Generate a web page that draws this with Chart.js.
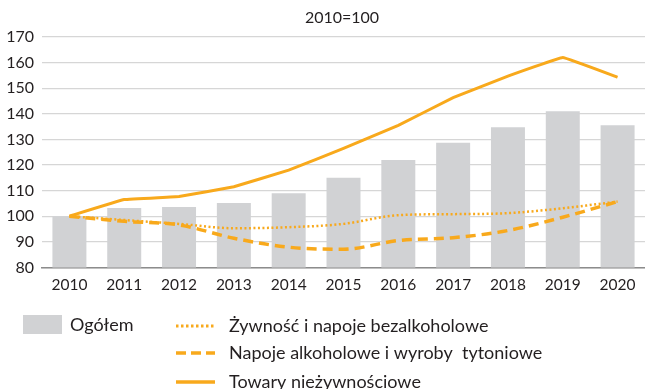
<!DOCTYPE html>
<html>
<head>
<meta charset="utf-8">
<script src="https://cdn.jsdelivr.net/npm/chart.js@4/dist/chart.umd.min.js"></script>
<style>
  html, body { margin: 0; padding: 0; background: #fff; }
  #wrap { width: 645px; height: 389px; position: relative; }
</style>
</head>
<body>
<div id="wrap"><canvas id="c" width="645" height="389"></canvas></div>
<script>
// Price indices, 2010 = 100
const years = ['2010','2011','2012','2013','2014','2015','2016','2017','2018','2019','2020'];
const ogolem = [100, 103.2, 103.6, 105.2, 109, 115, 122, 128.7, 134.7, 141, 135.5];
const zywnosc = [100, 98.5, 97, 95.3, 95.7, 97, 100.4, 100.8, 101.2, 103.1, 105.7];
const napoje = [100, 98, 96.6, 91.4, 87.9, 87.1, 90.5, 91.6, 94.4, 99.6, 105.7];
const towary = [100, 106.5, 107.7, 111.5, 118, 126.5, 135.5, 146.3, 154.7, 162, 154.3];

const labelNames = ['Ogółem', 'Żywność i napoje bezalkoholowe', 'Napoje alkoholowe i wyroby  tytoniowe', 'Towary nieżywnościowe'];

const ORANGE = '#f8a91c';
const BAR = '#d1d2d4';
const TEXT = '#231f20';
const FONT = 'Lato, "Open Sans", sans-serif';

const headerAndLegend = {
  id: 'headerAndLegend',
  afterDraw(chart) {
    const ctx = chart.ctx;
    ctx.save();
    ctx.fillStyle = TEXT;
    ctx.font = '16px ' + FONT;
    ctx.textAlign = 'center';
    ctx.textBaseline = 'middle';
    ctx.fillText('2010=100', 342, 18);

    ctx.font = '18px ' + FONT;
    ctx.textAlign = 'left';
    // bar swatch
    ctx.fillStyle = BAR;
    ctx.fillRect(23, 315, 39, 19);
    ctx.fillStyle = TEXT;
    ctx.fillText(labelNames[0], 70, 325);

    const rows = [
      { y: 326, dash: [2.5, 2.5], w: 3, text: labelNames[1] },
      { y: 353, dash: [10, 5], w: 3.5, text: labelNames[2] },
      { y: 382, dash: [], w: 3.5, text: labelNames[3] }
    ];
    rows.forEach(r => {
      ctx.strokeStyle = ORANGE;
      ctx.lineWidth = r.w;
      ctx.setLineDash(r.dash);
      ctx.beginPath();
      ctx.moveTo(176, r.y);
      ctx.lineTo(215, r.y);
      ctx.stroke();
      ctx.setLineDash([]);
      ctx.fillStyle = TEXT;
      ctx.fillText(r.text, 229, r.y);
    });
    ctx.restore();
  }
};

new Chart(document.getElementById('c'), {
  data: {
    labels: years,
    datasets: [
      {
        type: 'line', label: labelNames[3], data: towary,
        borderColor: ORANGE, borderWidth: 3, pointRadius: 0, tension: 0.05,
        fill: false, order: 1
      },
      {
        type: 'line', label: labelNames[2], data: napoje,
        borderColor: ORANGE, borderWidth: 3.5, borderDash: [10, 6], pointRadius: 0,
        cubicInterpolationMode: 'monotone', fill: false, order: 2
      },
      {
        type: 'line', label: labelNames[1], data: zywnosc,
        borderColor: ORANGE, borderWidth: 2.5, borderDash: [2, 2.5], pointRadius: 0,
        cubicInterpolationMode: 'monotone', fill: false, order: 3
      },
      {
        type: 'bar', label: labelNames[0], data: ogolem,
        backgroundColor: BAR, borderWidth: 0,
        categoryPercentage: 1, barPercentage: 0.62, order: 4
      }
    ]
  },
  options: {
    responsive: false,
    animation: false,
    layout: { padding: { top: 37, right: 0, bottom: 87, left: 0 } },
    plugins: { legend: { display: false }, tooltip: { enabled: false }, title: { display: false } },
    scales: {
      x: {
        grid: { display: false, drawTicks: false },
        border: { color: '#8c8c8c', width: 1.5 },
        ticks: { color: TEXT, font: { family: FONT, size: 15.5 }, padding: 8, maxRotation: 0 }
      },
      y: {
        min: 80, max: 170,
        afterFit(scale) { scale.width = 42; },
        grid: { color: '#d6d6d6', lineWidth: 1.2, drawTicks: false },
        border: { display: false },
        ticks: { stepSize: 10, color: TEXT, font: { family: FONT, size: 16 }, padding: 8 }
      }
    }
  },
  plugins: [headerAndLegend]
});
</script>
</body>
</html>
